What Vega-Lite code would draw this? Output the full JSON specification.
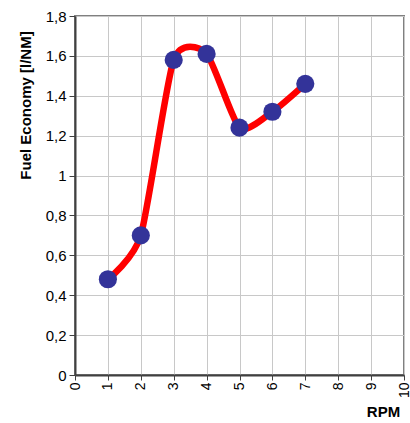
{
  "$schema": "https://vega.github.io/schema/vega-lite/v6.json",
  "autosize": {"type": "none"},
  "padding": {"left": 75, "top": 16, "right": 6, "bottom": 48},
  "width": 329,
  "height": 359,
  "background": "white",
  "config": {
    "font": "Liberation Sans",
    "view": {"stroke": "#808080", "strokeWidth": 2},
    "axis": {
      "labelFont": "Liberation Sans",
      "titleFont": "Liberation Sans",
      "labelColor": "#000000",
      "titleColor": "#000000",
      "domainColor": "#404040",
      "domainWidth": 2,
      "tickColor": "#404040",
      "tickWidth": 1,
      "gridColor": "#c8c8c8",
      "gridWidth": 1,
      "gridOpacity": 1
    }
  },
  "data": {
    "values": [
      {"rpm": 1, "fuel": 0.48},
      {"rpm": 2, "fuel": 0.70},
      {"rpm": 3, "fuel": 1.58},
      {"rpm": 4, "fuel": 1.61},
      {"rpm": 5, "fuel": 1.24},
      {"rpm": 6, "fuel": 1.32},
      {"rpm": 7, "fuel": 1.46}
    ]
  },
  "encoding": {
    "x": {
      "field": "rpm",
      "type": "quantitative",
      "scale": {"domain": [0, 10], "nice": false},
      "axis": {
        "title": "RPM",
        "values": [0, 1, 2, 3, 4, 5, 6, 7, 8, 9, 10],
        "labelAngle": -90,
        "labelFontSize": 14,
        "labelPadding": 2,
        "tickSize": 5,
        "titleFontSize": 15,
        "titleFontWeight": "bold",
        "titleX": 308,
        "titleY": 44,
        "titleAlign": "center",
        "titleBaseline": "bottom"
      }
    },
    "y": {
      "field": "fuel",
      "type": "quantitative",
      "scale": {"domain": [0, 1.8], "nice": false},
      "axis": {
        "title": "Fuel Economy [l/NM]",
        "values": [0, 0.2, 0.4, 0.6, 0.8, 1, 1.2, 1.4, 1.6, 1.8],
        "labelExpr": "replace(format(datum.value, '~g'), '.', ',')",
        "labelFontSize": 15,
        "labelPadding": 3,
        "tickSize": 6,
        "titleFontSize": 15,
        "titleFontWeight": "bold",
        "titleX": -50,
        "titleY": 89,
        "titleAlign": "center",
        "titleBaseline": "middle",
        "titleAngle": -90
      }
    }
  },
  "layer": [
    {
      "mark": {"type": "line", "interpolate": "cardinal", "tension": 0.35, "color": "#ff0000", "strokeWidth": 6.5}
    },
    {
      "mark": {"type": "point", "filled": true, "shape": "circle", "color": "#333399", "size": 330, "opacity": 1}
    }
  ]
}
